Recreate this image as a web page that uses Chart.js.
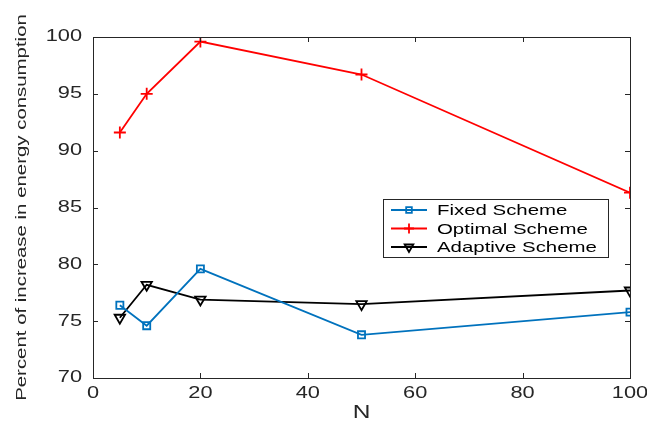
<!DOCTYPE html>
<html>
<head>
<meta charset="utf-8">
<script src="https://cdn.jsdelivr.net/npm/chart.js@4/dist/chart.umd.min.js"></script>
<style>
  html, body { margin: 0; padding: 0; background: #fff; }
  #wrap { width: 647px; height: 424px; }
</style>
</head>
<body>
<div id="wrap"><canvas id="chart" width="647" height="424"></canvas></div>
<script>
var nValues = [5, 10, 20, 50, 100];
var fixedScheme = [76.4, 74.6, 79.6, 73.8, 75.8];
var optimalScheme = [91.6, 95.0, 99.6, 96.7, 86.3];
var adaptiveScheme = [75.3, 78.2, 76.9, 76.5, 77.7];
var xTicks = [0, 20, 40, 60, 80, 100];
var yTicks = [70, 75, 80, 85, 90, 95, 100];

var FONT = '"Liberation Sans", Arial, Helvetica, sans-serif';
// the source figure's text is drawn wide, stretch it along its baseline
var TEXT_STRETCH = 1.36;

function pairs(ys) {
  return ys.map(function (y, i) { return { x: nValues[i], y: y }; });
}

var seriesStyle = [
  { label: 'Fixed Scheme', data: fixedScheme, color: '#0072BD', point: 'rect', rot: 0, r: 5 },
  { label: 'Optimal Scheme', data: optimalScheme, color: '#FF0000', point: 'cross', rot: 0, r: 6 },
  { label: 'Adaptive Scheme', data: adaptiveScheme, color: '#000000', point: 'triangle', rot: 180, r: 6 }
];

var canvas = document.getElementById('chart');
var ctx = canvas.getContext('2d');
var origFill = ctx.fillText.bind(ctx);
var origMeasure = ctx.measureText.bind(ctx);
ctx.measureText = function (t) {
  var m = origMeasure(t);
  return {
    width: m.width * TEXT_STRETCH,
    actualBoundingBoxAscent: m.actualBoundingBoxAscent,
    actualBoundingBoxDescent: m.actualBoundingBoxDescent,
    actualBoundingBoxLeft: m.actualBoundingBoxLeft * TEXT_STRETCH,
    actualBoundingBoxRight: m.actualBoundingBoxRight * TEXT_STRETCH
  };
};
ctx.fillText = function (t, x, y, maxW) {
  ctx.save();
  ctx.translate(x, y);
  ctx.scale(TEXT_STRETCH, 1);
  origFill(t, 0, 0);
  ctx.restore();
};

// frame + inward ticks like the original figure
var framePlugin = {
  id: 'frame',
  afterDraw: function (chart) {
    var c = chart.ctx, a = chart.chartArea;
    var xs = chart.scales.x, ys = chart.scales.y;
    c.save();
    c.strokeStyle = '#262626';
    c.lineWidth = 1;
    c.strokeRect(a.left + 0.5, a.top + 0.5, a.right - a.left, a.bottom - a.top);
    xTicks.forEach(function (t) {
      var px = Math.round(xs.getPixelForValue(t)) + 0.5;
      c.beginPath();
      c.moveTo(px, a.bottom); c.lineTo(px, a.bottom - 5);
      c.moveTo(px, a.top); c.lineTo(px, a.top + 5);
      c.stroke();
    });
    yTicks.forEach(function (t) {
      var py = Math.round(ys.getPixelForValue(t)) + 0.5;
      c.beginPath();
      c.moveTo(a.left, py); c.lineTo(a.left + 5, py);
      c.moveTo(a.right, py); c.lineTo(a.right - 5, py);
      c.stroke();
    });
    c.restore();
  }
};

// legend box inside the plot area
var boxLegend = {
  id: 'boxLegend',
  afterDraw: function (chart) {
    var c = chart.ctx;
    var bx = 383, by = 199, bw = 225, bh = 58;
    c.save();
    c.fillStyle = '#fff';
    c.fillRect(bx, by, bw, bh);
    c.strokeStyle = '#262626';
    c.lineWidth = 1;
    c.strokeRect(bx + 0.5, by + 0.5, bw, bh);
    c.font = '15px ' + FONT;
    c.textBaseline = 'middle';
    c.textAlign = 'left';
    seriesStyle.forEach(function (s, i) {
      var y = by + 11 + i * 18.5;
      c.strokeStyle = s.color;
      c.lineWidth = 1.8;
      c.beginPath();
      c.moveTo(bx + 8, y); c.lineTo(bx + 44, y);
      c.stroke();
      c.fillStyle = 'rgba(0,0,0,0)';
      Chart.helpers.drawPoint(c, { pointStyle: s.point, rotation: s.rot, radius: s.r - 1, borderWidth: 1.8 }, bx + 26, y);
      c.fillStyle = '#000';
      c.fillText(s.label, bx + 54, y + 1);
    });
    c.restore();
  }
};

new Chart(ctx, {
  type: 'line',
  data: {
    datasets: seriesStyle.map(function (s) {
      return {
        label: s.label,
        data: pairs(s.data),
        borderColor: s.color,
        backgroundColor: 'rgba(0,0,0,0)',
        pointBackgroundColor: 'rgba(0,0,0,0)',
        pointBorderColor: s.color,
        pointStyle: s.point,
        rotation: s.rot,
        pointRadius: s.r,
        pointBorderWidth: 1.8,
        borderWidth: 1.8,
        tension: 0
      };
    })
  },
  options: {
    responsive: false,
    animation: false,
    layout: { padding: { top: 37, right: 17, left: 0, bottom: 0 } },
    plugins: { legend: { display: false }, tooltip: { enabled: false } },
    scales: {
      x: {
        type: 'linear', min: 0, max: 100,
        afterBuildTicks: function (s) { s.ticks = xTicks.map(function (v) { return { value: v }; }); },
        afterFit: function (s) { s.height = 46; s.paddingLeft = 0; s.paddingRight = 0; },
        grid: { display: false, drawTicks: false },
        border: { display: false },
        ticks: { color: '#262626', font: { family: FONT, size: 16 }, padding: 6, maxRotation: 0 },
        title: { display: true, text: 'N', color: '#262626', font: { family: FONT, size: 18 }, padding: { top: 3, bottom: 0 } }
      },
      y: {
        type: 'linear', min: 70, max: 100,
        afterBuildTicks: function (s) { s.ticks = yTicks.map(function (v) { return { value: v }; }); },
        afterFit: function (s) { s.width = 93; s.paddingTop = 0; s.paddingBottom = 0; },
        grid: { display: false, drawTicks: false },
        border: { display: false },
        ticks: { color: '#262626', font: { family: FONT, size: 16 }, padding: 11 },
        title: { display: true, text: 'Percent of increase in energy consumption', color: '#262626', font: { family: FONT, size: 15 }, padding: { top: 13, bottom: 0 } }
      }
    }
  },
  plugins: [framePlugin, boxLegend]
});
</script>
</body>
</html>
